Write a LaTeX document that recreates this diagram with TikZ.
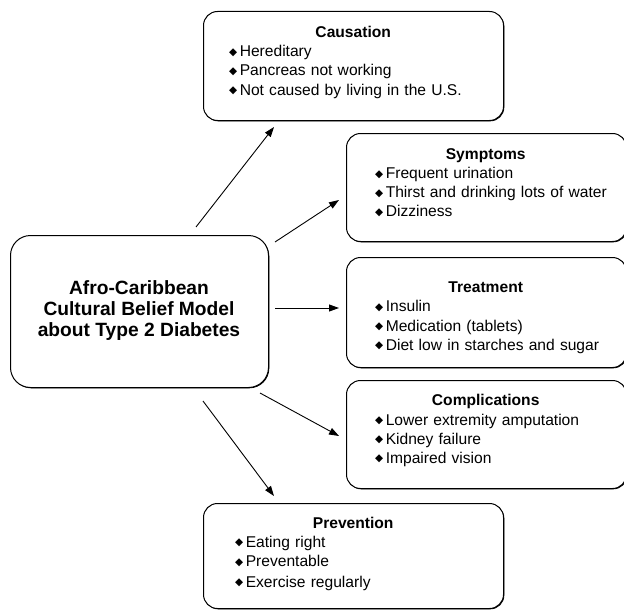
\documentclass[tikz,border=0pt]{standalone}
\usepackage{fontspec}
\setmainfont{Liberation Sans}
\newfontfamily\symf{DejaVu Sans}
\usetikzlibrary{arrows.meta,shadows}
\newcommand\bul{\raisebox{1.5pt}{\symf\fontsize{10.5}{10}\selectfont ◆}\hspace{2.5pt}}
\newcommand\itm[1]{\\\mbox{\bul #1}}
\newcommand\ttl[1]{\makebox[\linewidth]{\bfseries #1}}
\begin{document}
\begin{tikzpicture}[x=1pt,y=-1pt,
  boxshape/.style={draw, fill=white, line width=1pt, rounded corners=14pt,
    anchor=north west, inner sep=0pt,
    drop shadow={shadow xshift=0.8pt, shadow yshift=-0.8pt, fill=black, opacity=1}},
  txt/.style={anchor=north west, inner sep=0pt, align=left,
    font=\fontsize{15.6}{19.2}\selectfont},
  conn/.style={line width=0.9pt, -{Triangle[length=10pt,width=7pt]}}]
\useasboundingbox (0,0) rectangle (624,610);

% boxes
\node[boxshape, minimum width=300pt, minimum height=109pt] (causation) at (203,11) {};
\node[boxshape, minimum width=280pt, minimum height=108pt] (symptoms) at (346,133) {};
\node[boxshape, minimum width=280pt, minimum height=110pt] (treatment) at (346,257) {};
\node[boxshape, minimum width=280pt, minimum height=108pt] (complications) at (346,380) {};
\node[boxshape, minimum width=300pt, minimum height=105pt] (prevention) at (203,503) {};
\node[boxshape, rounded corners=20pt, minimum width=258pt, minimum height=152pt] (model) at (10,235) {};

% texts
\node[txt, text width=248pt] (causationtext) at (229,26)
  {\ttl{Causation}\itm{Hereditary}\itm{Pancreas not working}\itm{Not caused by living in the U.S.}};
\node[txt, text width=221pt] (symptomstext) at (375,148.3)
  {\ttl{Symptoms}\itm{Frequent urination}\itm{Thirst and drinking lots of water}\itm{Dizziness}};
\node[txt, text width=221pt] (treatmenttext) at (375,281.7)
  {\ttl{Treatment}\itm{Insulin}\itm{Medication (tablets)}\itm{Diet low in starches and sugar}};
\node[txt, text width=221pt] (complicationstext) at (375,394.3)
  {\ttl{Complications}\itm{Lower extremity amputation}\itm{Kidney failure}\itm{Impaired vision}};
\node[txt, text width=236pt] (preventiontext) at (235,516.7)
  {\ttl{Prevention}\itm{Eating right}\itm{Preventable}\\[1.5pt]\mbox{\bul Exercise regularly}};
\node[anchor=north, inner sep=0pt, align=center,
  font=\bfseries\fontsize{19.2}{20.7}\selectfont] (modeltext) at (139,280.5)
  {Afro-Caribbean\\Cultural Belief Model\\about Type 2 Diabetes};

% connectors
\coordinate (a1s) at (196,227); \coordinate (a1e) at (274,127);
\coordinate (a2s) at (275,242); \coordinate (a2e) at (339,200);
\coordinate (a3s) at (275,308); \coordinate (a3e) at (339,308);
\coordinate (a4s) at (260,393); \coordinate (a4e) at (339,436);
\coordinate (a5s) at (203,401); \coordinate (a5e) at (274,496);
\draw[conn] (a1s) -- (a1e);
\draw[conn] (a2s) -- (a2e);
\draw[conn] (a3s) -- (a3e);
\draw[conn] (a4s) -- (a4e);
\draw[conn] (a5s) -- (a5e);
\end{tikzpicture}
\end{document}
